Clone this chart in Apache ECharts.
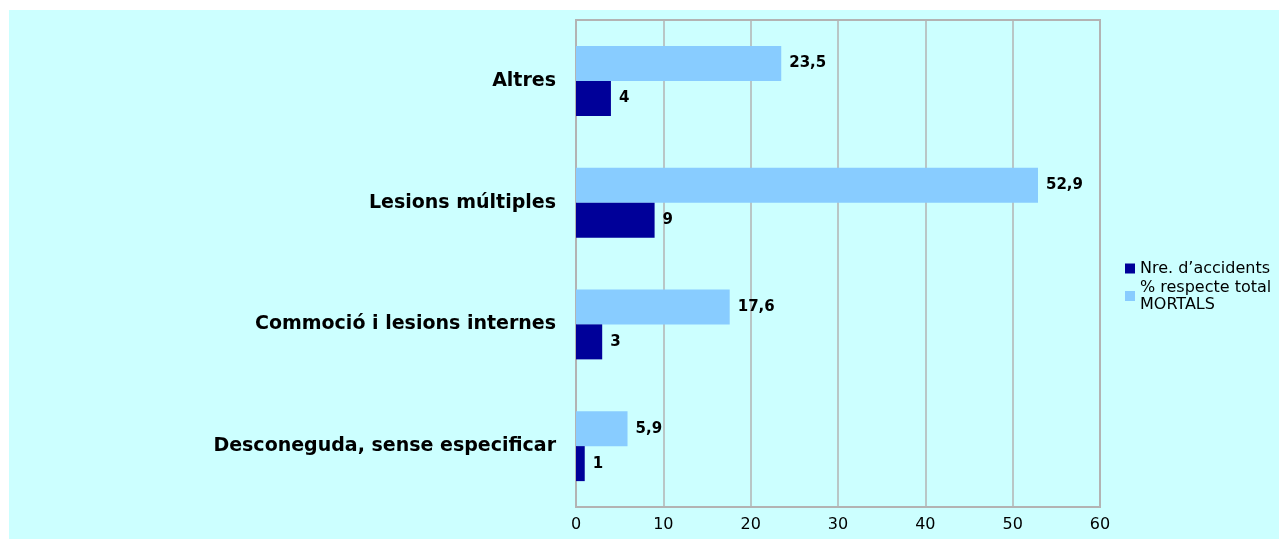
<!DOCTYPE html>
<html><head><meta charset="utf-8">
<script src="https://cdn.jsdelivr.net/npm/echarts@6/dist/echarts.min.js"></script>
<style>html,body{margin:0;padding:0;background:#fff}#c{width:1279px;height:539px}</style>
</head><body><div id="c"></div>
<script>
const categories = ['Desconeguda, sense especificar', 'Commoció i lesions internes', 'Lesions múltiples', 'Altres'];
const seriesNames = ['Nre. d\u2019accidents', '% respecte total\nMORTALS'];
const accidents = [1, 3, 9, 4];
const percent = [5.9, 17.6, 52.9, 23.5];
const xTicks = [0, 10, 20, 30, 40, 50, 60];

const FONT = 'DejaVu Sans, sans-serif';
const chart = echarts.init(document.getElementById('c'));
const fmt = p => String(p.value).replace('.', ',');
const labelStyle = {show: true, position: 'right', distance: 8, fontSize: 15, fontWeight: 'bold', color: '#000', fontFamily: FONT, formatter: fmt};
chart.setOption({
  animation: false,
  textStyle: {fontFamily: FONT},
  graphic: [{type: 'rect', z: -10, shape: {x: 9, y: 10, width: 1270, height: 529}, style: {fill: '#CCFFFF'}}],
  grid: {left: 576, right: 179, top: 20, bottom: 32, show: true, borderColor: '#b3b3b3', borderWidth: 2},
  legend: {
    orient: 'vertical', left: 1120, top: 255, itemWidth: 10, itemHeight: 10, itemGap: 2,
    icon: 'rect',
    textStyle: {fontSize: 16, color: '#000', lineHeight: 17, fontFamily: FONT},
    data: seriesNames
  },
  xAxis: {
    type: 'value', min: xTicks[0], max: xTicks[xTicks.length - 1], interval: 10,
    axisLine: {show: true, lineStyle: {color: '#b3b3b3', width: 2}},
    axisTick: {show: false},
    axisLabel: {fontSize: 16, color: '#000', margin: 10, fontFamily: FONT},
    splitLine: {show: true, lineStyle: {color: '#b3b3b3', width: 1.5}}
  },
  yAxis: {
    type: 'category', data: categories,
    axisLine: {show: true, lineStyle: {color: '#b3b3b3', width: 2}},
    axisTick: {show: false},
    axisLabel: {fontSize: 19, fontWeight: 'bold', color: '#000', margin: 20, fontFamily: FONT}
  },
  series: [
    {name: seriesNames[1], type: 'bar', data: percent, barWidth: 35, barGap: '0%',
     itemStyle: {color: '#88CCFF'}, label: labelStyle},
    {name: seriesNames[0], type: 'bar', data: accidents, barWidth: 35, barGap: '0%',
     itemStyle: {color: '#000099'}, label: labelStyle}
  ]
});
</script></body></html>
